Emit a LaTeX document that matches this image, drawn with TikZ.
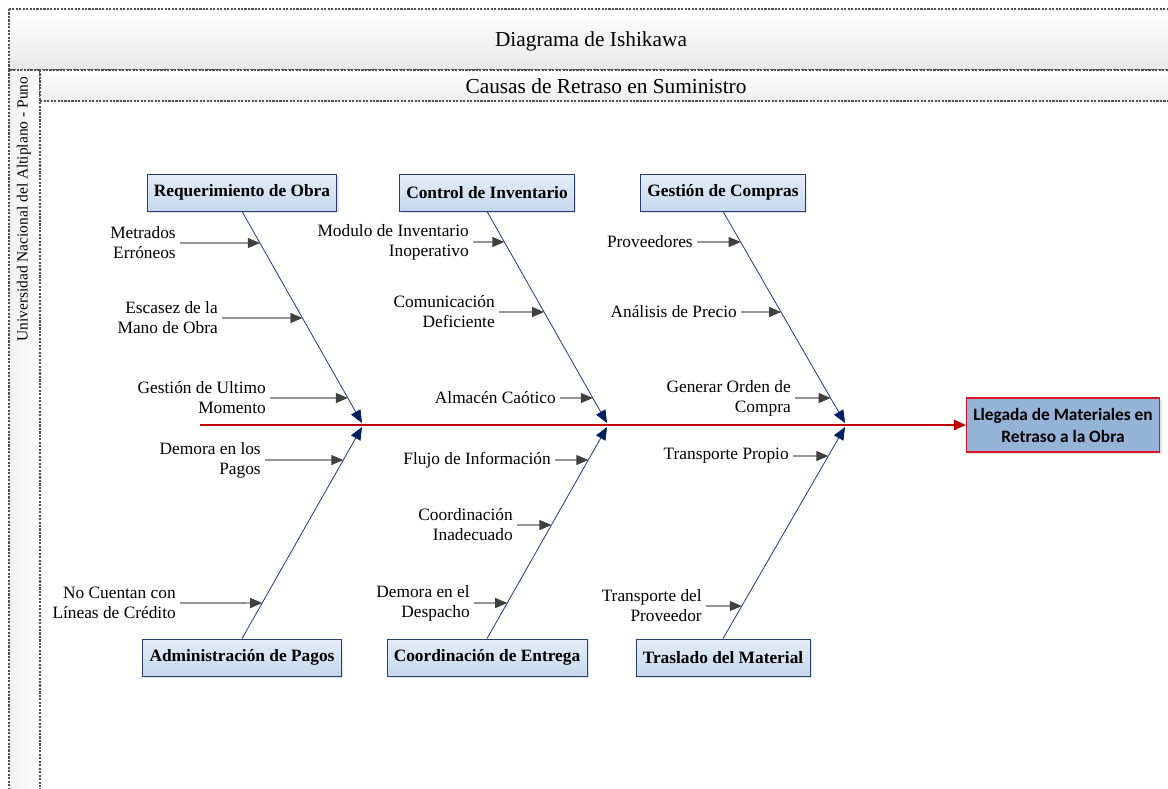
\documentclass[tikz,border=0pt]{standalone}
\usepackage{fontspec}
\setmainfont{Liberation Serif}
\newfontfamily\calibfont{Carlito}
\usetikzlibrary{arrows.meta,positioning,shadows,calc}
\definecolor{boneblue}{RGB}{31,56,120}
\definecolor{tipblue}{RGB}{0,32,96}
\definecolor{catline}{RGB}{40,62,110}
\definecolor{cattop}{RGB}{228,237,247}
\definecolor{catbot}{RGB}{198,216,238}
\definecolor{efffill}{RGB}{149,179,215}
\definecolor{effred}{RGB}{220,20,40}
\definecolor{spinered}{RGB}{192,0,0}
\definecolor{causegray}{RGB}{64,64,64}
\definecolor{framegray}{RGB}{80,80,80}

\tikzset{
  head/.style={font=\fontsize{16}{19}\selectfont},
  cat/.style={font=\fontsize{13}{15}\selectfont\bfseries, draw=catline, line width=0.6pt,
    top color=cattop, bottom color=catbot, minimum height=27.75pt, inner xsep=5pt,
    drop shadow={shadow xshift=1.5pt, shadow yshift=-1.5pt, fill=black!22}},
  effect/.style={font=\calibfont\bfseries\fontsize{13}{16.5}\selectfont, align=center,
    draw=effred, line width=0.8pt, fill=efffill, minimum width=145pt, minimum height=40.5pt,
    drop shadow={shadow xshift=1.5pt, shadow yshift=-1.5pt, fill=black!22}},
  cause/.style={font=\fontsize{13}{15}\selectfont, align=right, anchor=east, inner xsep=3pt, inner ysep=0pt},
  causearrow/.style={causegray!85, line width=0.8pt, -{Triangle[length=9pt,width=7.5pt,color=causegray]}},
  bone/.style={boneblue, line width=0.6pt, -{Triangle[length=9.5pt,width=8pt,color=tipblue]}},
  spine/.style={spinered, line width=0.8pt, -{Triangle[length=9pt,width=8pt]}},
  frame/.style={draw=framegray, line width=0.8pt, dash pattern=on 1.6pt off 1pt}
}

\begin{document}
\begin{tikzpicture}[x=0.75pt, y=-0.75pt]
    \useasboundingbox (0,0) rectangle (1168,789);
    \clip (0,0) rectangle (1168,789);

    % marco
    \path[frame, top color=white, bottom color=black!9] (9,9) rectangle (1190,70);
    \path[frame, left color=black!6, right color=white] (9,70) rectangle (40,810);
    \path[frame, top color=white, bottom color=black!7] (40,70) rectangle (1190,101);
    \node[head] (titulo) at (591,41) {Diagrama de Ishikawa};
    \node[head] (causas) at (606,86) {Causas de Retraso en Suministro};
    \node[font=\fontsize{11.6}{14}\selectfont, rotate=90, anchor=east] (univ) at (24,72) {Universidad Nacional del Altiplano - Puno};

    % efecto y espina
    \node[effect] (llegada) at (1063,425) {Llegada de Materiales en\\Retraso a la Obra};
    \coordinate (cola) at (200,425);
    \draw[spine] (cola) -- (llegada.west);
    \coordinate (tipAt) at (362,423);
    \coordinate (tipAb) at (362,427);
    \coordinate (tipBt) at (607,423);
    \coordinate (tipBb) at (607,427);
    \coordinate (tipCt) at (845,423);
    \coordinate (tipCb) at (845,427);

    % categorias
    \node[cat] (reqObra) at (242,192.5) {Requerimiento de Obra};
    \node[cat] (ctrlInv) at (487,192.5) {Control de Inventario};
    \node[cat] (gesComp) at (723,192.5) {Gestión de Compras};
    \node[cat] (admPag) at (242,657.5) {Administración de Pagos};
    \node[cat] (coordEnt) at (487,657.5) {Coordinación de Entrega};
    \node[cat] (trasMat) at (723,657.5) {Traslado del Material};

    \draw[bone] (reqObra.south) -- (tipAt);
    \draw[bone] (admPag.north) -- (tipAb);
    \draw[bone] (ctrlInv.south) -- (tipBt);
    \draw[bone] (coordEnt.north) -- (tipBb);
    \draw[bone] (gesComp.south) -- (tipCt);
    \draw[bone] (trasMat.north) -- (tipCb);

    % causas
    \node[cause] (metrados) at (180,243) {Metrados\\Erróneos};
    \node[cause] (escasez) at (222,318) {Escasez de la\\Mano de Obra};
    \node[cause] (ultimo) at (270,398) {Gestión de Ultimo\\Momento};
    \node[cause] (pagos) at (265,460) {Demora en los\\Pagos};
    \node[cause] (credito) at (180,603) {No Cuentan con\\Líneas de Crédito};
    \node[cause] (modulo) at (473,242) {Modulo de Inventario\\Inoperativo};
    \node[cause] (comunic) at (499,312) {Comunicación\\Deficiente};
    \node[cause] (almacen) at (560,398) {Almacén Caótico};
    \node[cause] (flujo) at (555,460) {Flujo de Información};
    \node[cause] (inadec) at (517,525) {Coordinación\\Inadecuado};
    \node[cause] (despacho) at (474,603) {Demora en el\\Despacho};
    \node[cause] (proveed) at (697,242) {Proveedores};
    \node[cause] (precio) at (741,312) {Análisis de Precio};
    \node[cause] (orden) at (795,398) {Generar Orden de\\Compra};
    \node[cause] (propio) at (793,456) {Transporte Propio};
    \node[cause] (provtr) at (706,606) {Transporte del\\Proveedor};

    \draw[causearrow] (metrados.east) -- (intersection of metrados.east--metrados.west and reqObra.south--tipAt);
    \draw[causearrow] (escasez.east) -- (intersection of escasez.east--escasez.west and reqObra.south--tipAt);
    \draw[causearrow] (ultimo.east) -- (intersection of ultimo.east--ultimo.west and reqObra.south--tipAt);
    \draw[causearrow] (pagos.east) -- (intersection of pagos.east--pagos.west and admPag.north--tipAb);
    \draw[causearrow] (credito.east) -- (intersection of credito.east--credito.west and admPag.north--tipAb);
    \draw[causearrow] (modulo.east) -- (intersection of modulo.east--modulo.west and ctrlInv.south--tipBt);
    \draw[causearrow] (comunic.east) -- (intersection of comunic.east--comunic.west and ctrlInv.south--tipBt);
    \draw[causearrow] (almacen.east) -- (intersection of almacen.east--almacen.west and ctrlInv.south--tipBt);
    \draw[causearrow] (flujo.east) -- (intersection of flujo.east--flujo.west and coordEnt.north--tipBb);
    \draw[causearrow] (inadec.east) -- (intersection of inadec.east--inadec.west and coordEnt.north--tipBb);
    \draw[causearrow] (despacho.east) -- (intersection of despacho.east--despacho.west and coordEnt.north--tipBb);
    \draw[causearrow] (proveed.east) -- (intersection of proveed.east--proveed.west and gesComp.south--tipCt);
    \draw[causearrow] (precio.east) -- (intersection of precio.east--precio.west and gesComp.south--tipCt);
    \draw[causearrow] (orden.east) -- (intersection of orden.east--orden.west and gesComp.south--tipCt);
    \draw[causearrow] (propio.east) -- (intersection of propio.east--propio.west and trasMat.north--tipCb);
    \draw[causearrow] (provtr.east) -- (intersection of provtr.east--provtr.west and trasMat.north--tipCb);
\end{tikzpicture}
\end{document}
